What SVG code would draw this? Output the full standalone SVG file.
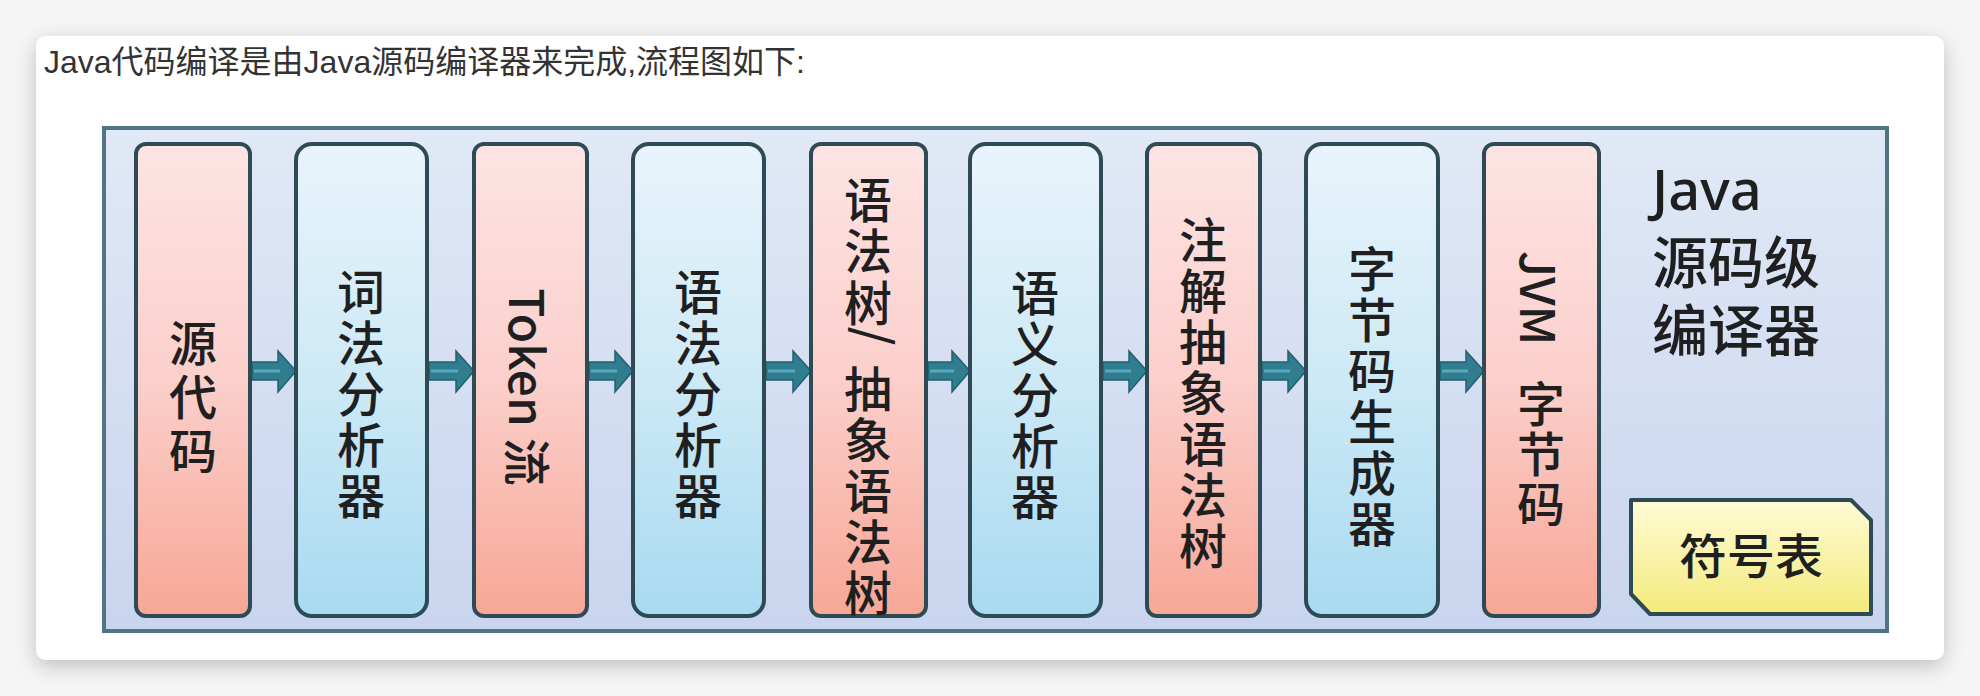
<svg xmlns="http://www.w3.org/2000/svg" width="1980" height="696" viewBox="0 0 1980 696">
<defs>
<linearGradient id="gPink" x1="0" y1="0" x2="0" y2="1"><stop offset="0" stop-color="#fde4e4"/><stop offset="0.5" stop-color="#fbcfcb"/><stop offset="1" stop-color="#f7a796"/></linearGradient>
<linearGradient id="gBlue" x1="0" y1="0" x2="0" y2="1"><stop offset="0" stop-color="#e9f4fb"/><stop offset="0.5" stop-color="#cde9f6"/><stop offset="1" stop-color="#a8daf0"/></linearGradient>
<linearGradient id="gFrame" x1="0" y1="0" x2="0" y2="1"><stop offset="0" stop-color="#e1e9f6"/><stop offset="1" stop-color="#c9d4ee"/></linearGradient>
<linearGradient id="gYellow" x1="0" y1="0" x2="0" y2="1"><stop offset="0" stop-color="#fffbd6"/><stop offset="1" stop-color="#f4ea7c"/></linearGradient>
<filter id="shadow" x="-5%" y="-10%" width="110%" height="125%"><feDropShadow dx="0" dy="6" stdDeviation="10" flood-color="#000" flood-opacity="0.22"/></filter>
</defs>
<style>
.pink{fill:url(#gPink);stroke:#2e4a55;stroke-width:4}
.blue{fill:url(#gBlue);stroke:#2e4a55;stroke-width:4}
.lbl{font-family:"Noto Sans CJK SC","Noto Sans",sans-serif;font-size:48px;font-weight:500;fill:#1f1f1f;text-anchor:middle;dominant-baseline:central}
.arrow{fill:#2f7d8f;stroke:#25606f;stroke-width:1.5}
.stripe{stroke:#5aa9ba;stroke-width:3}
.title{font-family:"Noto Sans","Noto Sans CJK SC",sans-serif;font-size:56px;font-weight:500;fill:#1f1f1f}
</style>
<rect width="1980" height="696" fill="#f5f5f5"/>
<rect x="36" y="36" width="1908" height="624" rx="10" fill="#ffffff" filter="url(#shadow)"/>
<text x="44" y="73" font-family="Liberation Sans, Noto Sans CJK SC, sans-serif" font-size="32" fill="#333333">Java代码编译是由Java源码编译器来完成,流程图如下:</text>

<g id="frame">
<rect x="104" y="128" width="1783" height="503" fill="url(#gFrame)" stroke="#4f7585" stroke-width="4"/>
<text class="title" x="1652" y="210">Java</text>
<text class="title" x="1652" y="283" font-family="Noto Sans CJK SC, sans-serif">源码级</text>
<text class="title" x="1652" y="351" font-family="Noto Sans CJK SC, sans-serif">编译器</text>
</g>

<g id="connectors">
<path class="arrow" d="M252 362 H278 V351 L296 371 L278 392 V380 H252 Z"/>
<path class="arrow" d="M429 362 H456 V351 L474 371 L456 392 V380 H429 Z"/>
<path class="arrow" d="M589 362 H615 V351 L633 371 L615 392 V380 H589 Z"/>
<path class="arrow" d="M766 362 H793 V351 L811 371 L793 392 V380 H766 Z"/>
<path class="arrow" d="M928 362 H952 V351 L970 371 L952 392 V380 H928 Z"/>
<path class="arrow" d="M1103 362 H1129 V351 L1147 371 L1129 392 V380 H1103 Z"/>
<path class="arrow" d="M1262 362 H1288 V351 L1306 371 L1288 392 V380 H1262 Z"/>
<path class="arrow" d="M1440 362 H1466 V351 L1484 371 L1466 392 V380 H1440 Z"/>
<path class="stripe" d="M254 371 H280 M431 371 H458 M591 371 H617 M768 371 H795 M930 371 H954 M1105 371 H1131 M1264 371 H1290 M1442 371 H1468"/>
</g>

<g id="n1">
<rect class="pink" x="136" y="144" width="114" height="472" rx="10"/>
<text class="lbl" x="193 193 193" y="340 394 448">源代码</text>
</g>
<g id="n2">
<rect class="blue" x="296" y="144" width="131" height="472" rx="16"/>
<text class="lbl" x="361 361 361 361 361" y="289 340 391 442 493">词法分析器</text>
</g>
<g id="n3">
<rect class="pink" x="474" y="144" width="113" height="472" rx="10"/>
<text class="lbl" transform="translate(530 387) rotate(90)" x="0" y="0" font-family="Noto Sans, Noto Sans CJK SC, sans-serif">Token 流</text>
</g>
<g id="n4">
<rect class="blue" x="633" y="144" width="131" height="472" rx="16"/>
<text class="lbl" x="698 698 698 698 698" y="289 340 391 442 493">语法分析器</text>
</g>
<g id="n5">
<rect class="pink" x="811" y="144" width="115" height="472" rx="10"/>
<text class="lbl" x="868 868 868" y="197 248 300">语法树</text>
<text class="lbl" transform="translate(878 336) rotate(90)" x="0" y="0" font-size="36">/</text>
<text class="lbl" x="868 868 868 868 868" y="386 437 488 539 590">抽象语法树</text>
</g>
<g id="n6">
<rect class="blue" x="970" y="144" width="131" height="472" rx="16"/>
<text class="lbl" x="1035 1035 1035 1035 1035" y="290 341 392 443 494">语义分析器</text>
</g>
<g id="n7">
<rect class="pink" x="1147" y="144" width="113" height="472" rx="10"/>
<text class="lbl" x="1203 1203 1203 1203 1203 1203 1203" y="237 288 339 390 441 492 543">注解抽象语法树</text>
</g>
<g id="n8">
<rect class="blue" x="1306" y="144" width="132" height="472" rx="16"/>
<text class="lbl" x="1372 1372 1372 1372 1372 1372" y="266 317 368 419 470 521">字节码生成器</text>
</g>
<g id="n9">
<rect class="pink" x="1484" y="144" width="115" height="472" rx="10"/>
<text class="lbl" transform="translate(1541 298) rotate(90)" x="0" y="0" font-family="Noto Sans, sans-serif">JVM</text>
<text class="lbl" x="1541 1541 1541" y="401 451 501">字节码</text>
</g>
<g id="n10">
<path d="M1631 500 H1851 L1871 520 V614 H1650 L1631 594 Z" fill="url(#gYellow)" stroke="#2e4a55" stroke-width="4" stroke-linejoin="round"/>
<text class="lbl" x="1751" y="553" font-size="42" fill="#333333">符号表</text>
</g>
</svg>
